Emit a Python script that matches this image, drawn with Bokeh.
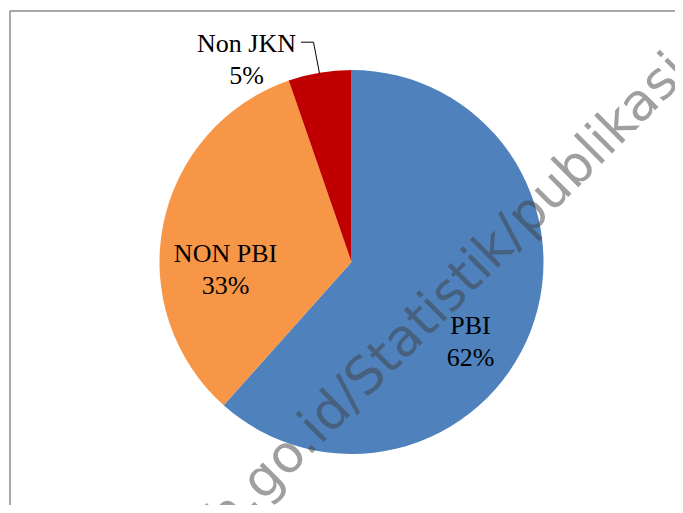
import math
from bokeh.plotting import figure
from bokeh.models import Range1d, ColumnDataSource
from bokeh.core.properties import value
from bokeh.embed import file_html
from bokeh.resources import INLINE

# ---- data ----
categories = ["PBI", "NON PBI", "Non JKN"]
shares = [61.6, 33.1, 5.3]
pct_labels = ["62%", "33%", "5%"]
colors = ["#4F81BD", "#F79646", "#C00000"]

W, H = 675, 505
p = figure(width=W, height=H, output_backend="svg", toolbar_location=None,
           x_range=Range1d(0, W), y_range=Range1d(0, H), min_border=0)
p.axis.visible = False
p.grid.visible = False
p.outline_line_color = None
p.background_fill_color = "white"

# chart-area border (only left and top visible in the crop)
p.line([9.5, 9.5, 720], [-20, 494.5, 494.5], line_color="#8c8c8c", line_width=1.5)

cx, cy, r = 351, 243.5, 192
total = sum(shares)
starts, ends = [], []
cum = 0.0
for s in shares:
    a_end = math.pi / 2 - 2 * math.pi * cum / total
    a_start = math.pi / 2 - 2 * math.pi * (cum + s) / total
    starts.append(a_start)
    ends.append(a_end)
    cum += s
src = ColumnDataSource(dict(start=starts, end=ends, color=colors, cat=categories))
p.wedge(x=cx, y=cy, radius=r, start_angle="start", end_angle="end",
        fill_color="color", line_color=None, source=src)

# data labels
lab_x = [470, 225, 246]
lab_y = [180, 252, 462]
line_gap = 32
p.text(x=lab_x, y=lab_y, text=categories, text_font=value("Liberation Serif"),
       text_font_size="26px", text_align="center", text_baseline="alphabetic",
       text_color="black")
p.text(x=lab_x, y=[v - line_gap for v in lab_y], text=pct_labels,
       text_font=value("Liberation Serif"), text_font_size="26px",
       text_align="center", text_baseline="alphabetic", text_color="black")

# leader line for Non JKN
p.line([300.5, 313, 319], [463.3, 463.3, 432], line_color="black", line_width=1)

# watermark
p.text(x=[678], y=[444], text=["h.go.id/Statistik/publikasi"],
       angle=math.radians(45), text_font=value("DejaVu Sans"),
       text_font_size="52px", text_align="right", text_baseline="alphabetic",
       text_color="#404040", text_alpha=0.5)

open("out.html", "w").write(file_html(p, INLINE))
